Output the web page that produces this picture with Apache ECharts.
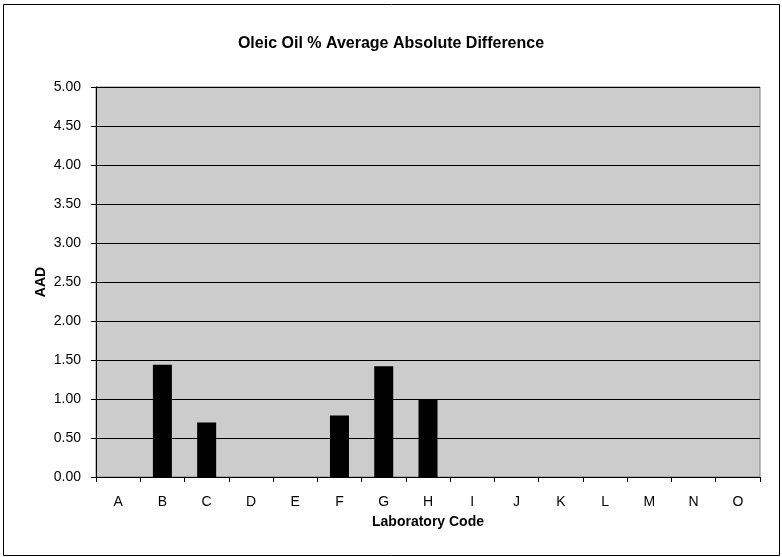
<!DOCTYPE html>
<html>
<head>
<meta charset="utf-8">
<script src="https://cdn.jsdelivr.net/npm/echarts@6/dist/echarts.min.js"></script>
<style>
html, body { margin: 0; padding: 0; background: #fff; }
#chart { width: 782px; height: 557px; }
</style>
</head>
<body>
<div id="chart"></div>
<script>
// laboratory codes on the x axis
const labCodes = ['A', 'B', 'C', 'D', 'E', 'F', 'G', 'H', 'I', 'J', 'K', 'L', 'M', 'N', 'O']
// average absolute difference per lab
const aadValues = [0, 1.44, 0.70, 0, 0, 0.79, 1.42, 1.00, 0, 0, 0, 0, 0, 0, 0]

const chart = echarts.init(document.getElementById('chart'))

const font = '"Liberation Sans", Arial, sans-serif'

const option = {
	animation: false,
	textStyle: { fontFamily: font },
	title: {
		text: 'Oleic Oil % Average Absolute Difference',
		left: 'center',
		top: 31,
		textStyle: { fontSize: 16, fontWeight: 'bold', color: '#000', fontFamily: font },
	},
	graphic: [
		{
			type: 'rect',
			shape: { x: 3.5, y: 4.5, width: 776, height: 551 },
			style: { fill: 'none', stroke: '#000', lineWidth: 1 },
			silent: true,
			z: -1,
		},
	],
	grid: {
		left: 96,
		right: 22,
		top: 87,
		bottom: 80,
		show: true,
		backgroundColor: '#CCCCCC',
		borderColor: '#808080',
		borderWidth: 1,
	},
	xAxis: {
		type: 'category',
		data: labCodes,
		name: 'Laboratory Code',
		nameLocation: 'middle',
		nameGap: 38,
		nameMoveOverlap: false,
		nameTextStyle: { fontSize: 14, fontWeight: 'bold', color: '#000', fontFamily: font },
		axisLine: { lineStyle: { color: '#000', width: 1 } },
		axisTick: { show: true, length: 5, lineStyle: { color: '#000' } },
		axisLabel: { color: '#000', fontSize: 14, margin: 18, fontFamily: font },
		splitLine: { show: false },
	},
	yAxis: {
		type: 'value',
		min: 0,
		max: 5,
		interval: 0.5,
		name: 'AAD',
		nameLocation: 'middle',
		nameGap: 48,
		nameMoveOverlap: false,
		nameTextStyle: { fontSize: 14, fontWeight: 'bold', color: '#000', fontFamily: font },
		axisLine: { show: true, lineStyle: { color: '#000', width: 1 } },
		axisTick: { show: true, length: 5, lineStyle: { color: '#000' } },
		axisLabel: {
			color: '#000',
			fontSize: 14,
			margin: 15,
			fontFamily: font,
			formatter: (v) => v.toFixed(2),
		},
		splitLine: { show: true, lineStyle: { color: '#000', width: 1 } },
	},
	series: [
		{
			type: 'bar',
			data: aadValues,
			barWidth: 19,
			itemStyle: { color: '#000' },
		},
	],
}

chart.setOption(option)
</script>
</body>
</html>
